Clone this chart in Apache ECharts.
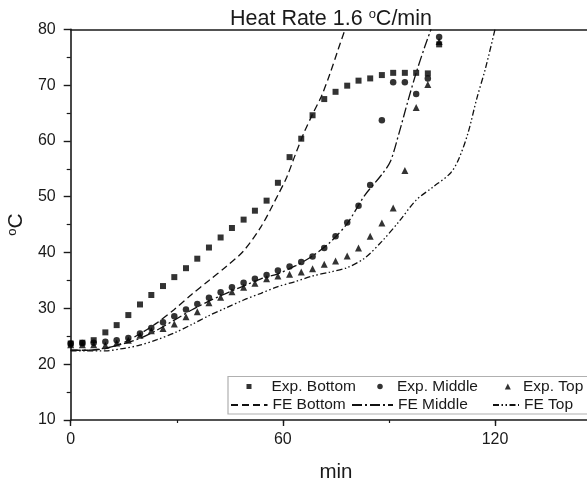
<!DOCTYPE html>
<html><head><meta charset="utf-8">
<script src="https://cdn.jsdelivr.net/npm/echarts@6/dist/echarts.min.js"></script>
<style>html,body{margin:0;padding:0;background:#fff}#c{width:587px;height:481px}</style>
</head><body><div id="c"></div>
<script>
// ---- data ----
const expTime = [0, 3.3, 6.5, 9.8, 13.0, 16.3, 19.6, 22.8, 26.1, 29.3, 32.6, 35.8, 39.1, 42.4, 45.6, 48.9, 52.1, 55.4, 58.6, 61.9, 65.2, 68.4, 71.7, 74.9, 78.2, 81.4, 84.7, 88.0, 91.2, 94.5, 97.7, 101.0, 104.2];
const expBottom = [23.7, 23.85, 24.3, 25.7, 27.0, 28.8, 30.7, 32.4, 34.0, 35.6, 37.2, 38.9, 40.9, 42.7, 44.4, 45.9, 47.5, 49.3, 52.5, 57.1, 60.4, 64.6, 67.5, 68.8, 69.9, 70.8, 71.2, 71.8, 72.2, 72.2, 72.2, 72.1, 77.3];
const expMiddle = [23.7, 23.8, 23.85, 24.0, 24.3, 24.7, 25.5, 26.5, 27.5, 28.6, 29.8, 30.8, 31.9, 32.9, 33.8, 34.6, 35.3, 36.0, 36.8, 37.5, 38.3, 39.3, 40.8, 42.9, 45.4, 48.4, 52.1, 63.7, 70.5, 70.5, 68.4, 71.2, 78.6];
const expTop = [23.5, 23.5, 23.5, 23.4, 23.8, 24.3, 25.2, 26.0, 26.4, 27.2, 28.5, 29.4, 31.0, 32.0, 33.0, 33.8, 34.5, 35.3, 35.8, 36.1, 36.5, 37.1, 37.9, 38.5, 39.4, 40.8, 42.9, 45.3, 48.0, 54.7, 66.0, 70.1, 77.8];

const feBottomTime = [0, 4.9, 9.8, 14.7, 19.5, 24.4, 29.3, 34.2, 39.1, 44.0, 48.9, 53.8, 58.6, 61.1, 63.5, 66.0, 68.4, 70.9, 73.3, 75.7, 77.6];
const feBottomTemp = [22.5, 22.5, 22.8, 23.8, 25.4, 27.4, 29.8, 32.5, 35.0, 37.5, 40.3, 44.6, 50.3, 53.5, 57.5, 61.5, 64.8, 68.0, 72.0, 76.5, 80];
const feMiddleTime = [0, 4.9, 9.8, 14.7, 19.5, 24.4, 29.3, 34.2, 39.1, 44.0, 48.9, 53.8, 58.6, 63.5, 68.4, 73.3, 78.2, 83.1, 88.0, 90.4, 92.9, 95.3, 97.7, 100.2, 101.9];
const feMiddleTemp = [22.5, 22.5, 22.9, 23.6, 24.6, 26.1, 27.9, 29.7, 31.3, 32.7, 34.0, 35.3, 36.2, 37.6, 39.4, 41.8, 45.2, 50.2, 54.0, 56.3, 61.5, 67.0, 72.2, 77.0, 80];
const feTopTime = [0, 9.8, 14.7, 19.5, 24.4, 29.3, 34.2, 39.1, 44.0, 48.9, 53.8, 58.6, 63.5, 68.4, 73.3, 78.2, 83.1, 88.0, 92.9, 97.7, 102.6, 107.5, 109.9, 112.4, 114.8, 117.3, 120.0];
const feTopTemp = [22.4, 22.4, 22.8, 23.4, 24.4, 25.6, 27.1, 28.7, 30.1, 31.5, 32.7, 33.9, 34.8, 35.8, 36.5, 37.3, 39.0, 42.0, 45.6, 49.4, 51.8, 54.3, 57.0, 61.5, 67.5, 73.0, 80];

const xTicks = [0, 60, 120];
const yTicks = [10, 20, 30, 40, 50, 60, 70, 80];
const titleText = 'Heat Rate 1.6 {s|o}C/min';
const xName = 'min';
const yName = '{s|o}C';

// ---- build ----
const pairs = (xs, ys) => xs.map((x, i) => [x, ys[i]]);
const FONT = 'Arial, "Liberation Sans", sans-serif';
const INK = '#1a1a1a';

const chart = echarts.init(document.getElementById('c'), null, {renderer: 'canvas'});

function markLegend(name, cx, size, tx, top) {
  const left = cx - size / 2;
  return {
    data: [name], left: left, top: top, itemWidth: size, itemHeight: size, padding: 0, z: 10,
    selectedMode: false,
    textStyle: {fontFamily: FONT, fontSize: 15.5, color: INK, padding: [0, 0, 0, tx - (left + size + 5)]}
  };
}
function lineLegend(name, x0, x1, top) {
  return {
    data: [{name: name, itemStyle: {opacity: 0}}], left: x0, top: top, itemWidth: x1 - x0, itemHeight: 0.4, padding: 0, z: 10,
    selectedMode: false,
    textStyle: {fontFamily: FONT, fontSize: 15.5, color: INK}
  };
}

const option = {
  animation: false,
  backgroundColor: '#fff',
  title: {
    text: titleText, left: 331, top: 8, textAlign: 'center', padding: 0,
    textStyle: {fontFamily: FONT, fontSize: 21.5, fontWeight: 'normal', color: INK,
      rich: {s: {fontFamily: FONT, fontSize: 13, verticalAlign: 'top', color: INK}}}
  },
  grid: {left: 70.7, top: 29.3, right: -14.1, bottom: 61, containLabel: false, outerBoundsMode: 'none'},
  xAxis: [{
    type: 'value', min: 0, max: 150, interval: 60, position: 'bottom',
    name: xName, nameLocation: 'middle', nameGap: 42,
    nameTextStyle: {fontFamily: FONT, fontSize: 20.5, color: INK},
    axisLine: {show: true, onZero: false, lineStyle: {color: INK, width: 1.6}},
    axisTick: {show: true, length: 6, lineStyle: {color: INK, width: 1.4}},
    axisLabel: {margin: 12, fontFamily: FONT, fontSize: 16, color: INK,
      formatter: v => xTicks.indexOf(v) >= 0 ? String(v) : ''},
    splitLine: {show: false}
  }, {
    type: 'value', min: 0, max: 150, position: 'top',
    axisLine: {show: true, onZero: false, lineStyle: {color: INK, width: 1.6}},
    axisTick: {show: false}, axisLabel: {show: false}, splitLine: {show: false}
  }, {
    type: 'value', min: 0, max: 150, interval: 30, position: 'bottom', offset: 0,
    axisLine: {show: false},
    axisTick: {show: true, length: 3, lineStyle: {color: INK, width: 1.2}},
    axisLabel: {show: false}, splitLine: {show: false}
  }],
  yAxis: {
    type: 'value', min: 10, max: 80, interval: 10,
    name: yName, nameLocation: 'middle', nameGap: 29, nameRotate: 90,
    nameTextStyle: {fontFamily: FONT, fontSize: 21, color: INK,
      rich: {s: {fontFamily: FONT, fontSize: 13, verticalAlign: 'top', color: INK}}},
    axisLine: {show: true, onZero: false, lineStyle: {color: INK, width: 1.6}},
    axisTick: {show: true, length: 7, lineStyle: {color: INK, width: 1.4}},
    minorTick: {show: true, splitNumber: 2, length: 4, lineStyle: {color: INK, width: 1.2}},
    axisLabel: {margin: 15, fontFamily: FONT, fontSize: 16, color: INK,
      formatter: v => yTicks.indexOf(v) >= 0 ? String(v) : ''},
    splitLine: {show: false}
  },
  legend: [
    markLegend('Exp. Bottom', 249, 5, 271.5, 378.5),
    markLegend('Exp. Middle', 380, 5.5, 397, 378.5),
    markLegend('Exp. Top', 507.8, 6, 523, 378.5),
    lineLegend('FE Bottom', 230, 266.5, 397),
    lineLegend('FE Middle', 351, 392, 397),
    lineLegend('FE Top', 492, 518, 397)
  ],
  graphic: [{
    type: 'rect', z: 1, shape: {x: 228, y: 376.5, width: 370, height: 37.5},
    style: {fill: '#fff', stroke: '#b0b0b0', lineWidth: 1.2}
  }],
  series: [
    {name: 'Exp. Bottom', type: 'scatter', data: pairs(expTime, expBottom), symbol: 'rect', symbolSize: 6, itemStyle: {color: '#000'}},
    {name: 'Exp. Middle', type: 'scatter', data: pairs(expTime, expMiddle), symbol: 'circle', symbolSize: 6.5, itemStyle: {color: '#000'}},
    {name: 'Exp. Top', type: 'scatter', data: pairs(expTime, expTop), symbol: 'triangle', symbolSize: 7, itemStyle: {color: '#000'}},
    {name: 'FE Bottom', type: 'line', data: pairs(feBottomTime, feBottomTemp), showSymbol: false, symbol: 'none', smooth: 0.3,
      lineStyle: {color: '#111', width: 1.3, type: [7, 4]}, itemStyle: {color: '#111'}},
    {name: 'FE Middle', type: 'line', data: pairs(feMiddleTime, feMiddleTemp), showSymbol: false, symbol: 'none', smooth: 0.3,
      lineStyle: {color: '#111', width: 1.3, type: [10, 3, 2, 3]}, itemStyle: {color: '#111'}},
    {name: 'FE Top', type: 'line', data: pairs(feTopTime, feTopTemp), showSymbol: false, symbol: 'none', smooth: 0.3,
      lineStyle: {color: '#111', width: 1.3, type: [6, 2.5, 1.5, 2.5, 1.5, 2.5]}, itemStyle: {color: '#111'}}
  ]
};
chart.setOption(option);
</script>
</body></html>
